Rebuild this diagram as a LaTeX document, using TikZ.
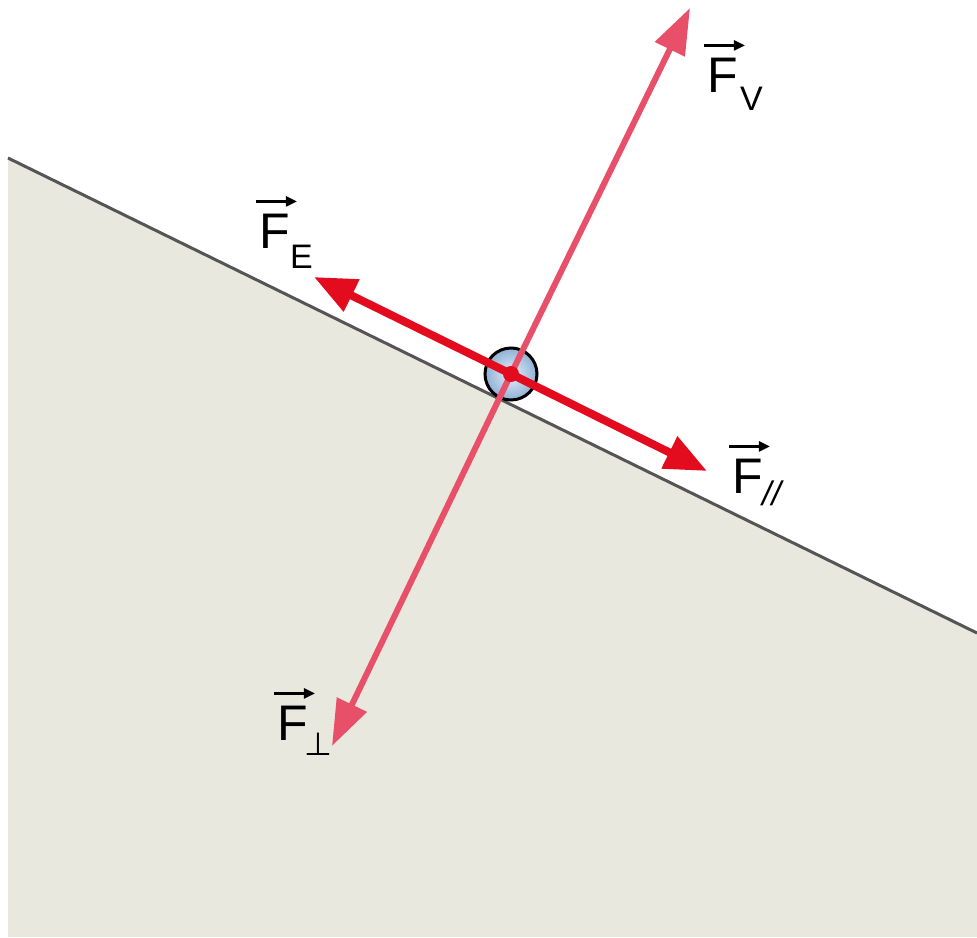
\documentclass[tikz,border=0pt]{standalone}
\usepackage{fontspec}
\setmainfont{Liberation Sans}
\usetikzlibrary{arrows.meta}
\definecolor{ground}{HTML}{E8E8DF}
\definecolor{edge}{HTML}{555555}
\definecolor{fred}{HTML}{E30B1E}
\definecolor{fpink}{HTML}{E8506A}
\definecolor{ballin}{HTML}{E6F0FA}
\definecolor{ballout}{HTML}{8FB0D6}
\tikzset{
  redvec/.style={draw=fred, line width=8pt, -{Triangle[length=42pt,width=34pt]}},
  pinkvec/.style={draw=fpink, line width=6pt, -{Triangle[length=46pt,width=32pt]}},
  lbl/.style={inner sep=0pt, font=\fontsize{50}{50}\selectfont},
  sublbl/.style={inner sep=0pt, font=\fontsize{34}{34}\selectfont, anchor=base west},
  overvec/.style={draw=black, line width=2.4pt, -{Triangle[length=11pt,width=10pt]}},
}
\begin{document}
\begin{tikzpicture}[x=1pt,y=-1pt]
\useasboundingbox (0,0) rectangle (977,937);
% ground
\fill[ground] (8,158) -- (977,633) -- (977,937) -- (8,937) -- cycle;
\coordinate (s1) at (8,158);
\coordinate (s2) at (977,633);
\draw[edge, line width=3pt] (s1) -- (s2);
% ball
\coordinate (c) at (511,374);
\node[circle, minimum size=52pt, inner sep=0pt, draw=black, line width=3pt,
      inner color=ballin, outer color=ballout] (ball) at (c) {};
% vectors
\coordinate (tipE) at (314,277);
\coordinate (tipP) at (707,471);
\coordinate (tipV) at (690,8);
\coordinate (tipL) at (332,746);
\draw[pinkvec] (ball.center) -- (tipV);
\draw[pinkvec] (ball.center) -- (tipL);
\draw[redvec] (ball.center) -- (tipE);
\draw[redvec] (ball.center) -- (tipP);
\fill[fred] (ball.center) circle (8pt);
% labels
\node[lbl, anchor=base west] (FV) at (707,92) {F};
\node[sublbl] (FVs) at (740,110) {V};
\draw[overvec] ([xshift=-3pt,yshift=12pt]FV.north west) -- ([xshift=7pt,yshift=12pt]FV.north east);

\node[lbl, anchor=base west] (FE) at (259,248) {F};
\node[sublbl] (FEs) at (290,268) {E};
\draw[overvec] ([xshift=-3pt,yshift=12pt]FE.north west) -- ([xshift=7pt,yshift=12pt]FE.north east);

\node[lbl, anchor=base west] (FP) at (732,493) {F};
\node[sublbl] (FPs) at (762,505) {\itshape //};
\draw[overvec] ([xshift=-3pt,yshift=12pt]FP.north west) -- ([xshift=7pt,yshift=12pt]FP.north east);

\node[lbl, anchor=base west] (FL) at (277,740) {F};
\node[sublbl] (FLs) at (304,755) {\fontspec{DejaVu Sans}\fontsize{32}{32}\selectfont ⊥};
\draw[overvec] ([xshift=-3pt,yshift=12pt]FL.north west) -- ([xshift=7pt,yshift=12pt]FL.north east);
\end{tikzpicture}
\end{document}
